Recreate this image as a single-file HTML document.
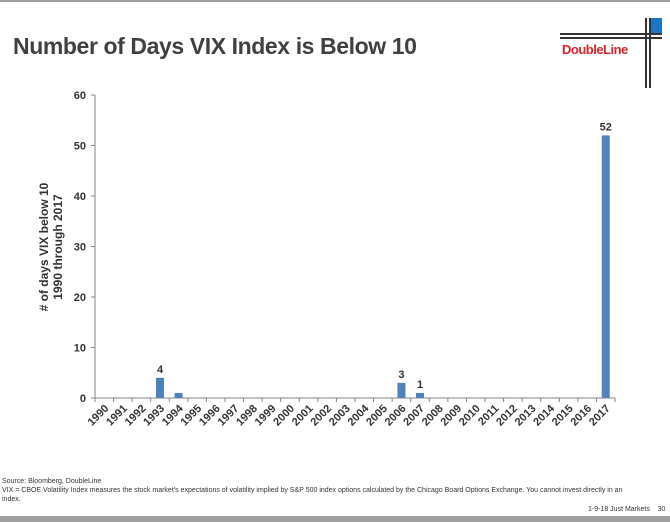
<!DOCTYPE html>
<html><head><meta charset="utf-8"><style>
body{margin:0;width:670px;height:522px;background:#fff;position:relative;overflow:hidden;font-family:"Liberation Sans",sans-serif}
.abs{position:absolute}
</style></head><body>
<div class="abs" style="left:0;top:0;width:670px;height:2px;background:#a0a0a0"></div>
<div class="abs" style="left:13px;top:33px;font-size:23px;color:#404040;font-weight:bold;letter-spacing:-0.4px">Number of Days VIX Index is Below 10</div>
<svg class="abs" style="left:556px;top:16px" width="112" height="74">
<rect x="94" y="2" width="12" height="15" fill="#1a75c4"/>
<rect x="4" y="17" width="102" height="2" fill="#333"/><rect x="4" y="21" width="102" height="2" fill="#333"/>
<rect x="89" y="2" width="2" height="70" fill="#333"/><rect x="93" y="2" width="2" height="70" fill="#333"/>
<text x="6" y="38" font-size="13" font-weight="bold" fill="#d9232a" font-family="Liberation Sans,sans-serif" letter-spacing="-0.5">DoubleLine</text>
</svg>
<svg id="chart" class="abs" style="left:0;top:0" width="670" height="522"></svg>
<div class="abs" style="left:2px;top:477px;font-size:7px;color:#333;line-height:9px;width:640px">Source: Bloomberg, DoubleLine<br>VIX = CBOE Volatility Index measures the stock market's expectations of volatility implied by S&amp;P 500 index options calculated by the Chicago Board Options Exchange. You cannot invest directly in an index.</div>
<div class="abs" style="left:588px;top:506px;font-size:7px;color:#333">1-9-18 Just Markets &nbsp;&nbsp; 30</div>
<div class="abs" style="left:0;top:516px;width:670px;height:6px;background:#a0a0a0"></div>
<script>
const categories=[];for(let y=1990;y<=2017;y++)categories.push(String(y));
const values=[0,0,0,4,1,0,0,0,0,0,0,0,0,0,0,0,3,1,0,0,0,0,0,0,0,0,0,52];
const labels={"1993":"4","2006":"3","2007":"1","2017":"52"};
const yTicks=[0,10,20,30,40,50,60];
const svg=document.getElementById('chart');const NS='http://www.w3.org/2000/svg';
const x0=95,x1=615,y0=398,yTop=95,yMax=60;
const step=(x1-x0)/categories.length;
const xs=i=>x0+step*(i+0.5);const ys=v=>y0-(y0-yTop)*v/yMax;
function mk(t,a,p){const e=document.createElementNS(NS,t);for(const k in a)e.setAttribute(k,a[k]);(p||svg).appendChild(e);return e;}
let e=mk('line',{x1:x0,y1:yTop,x2:x0,y2:y0,stroke:'#868686'});

e=mk('line',{x1:x0,y1:y0,x2:x1,y2:y0,stroke:'#868686'});

yTicks.forEach(t=>{mk('line',{x1:x0-4,y1:ys(t),x2:x0,y2:ys(t),stroke:'#868686'});
const tx=mk('text',{x:x0-9,y:ys(t)+4,'text-anchor':'end','font-size':11,'font-weight':'bold',fill:'#333'});tx.textContent=t;
});
for(let i=0;i<=categories.length;i++)mk('line',{x1:x0+step*i,y1:y0,x2:x0+step*i,y2:y0+4,stroke:'#868686'});
categories.forEach((c,i)=>{const cx=xs(i);
const tx=mk('text',{x:cx+5,y:y0+11,'text-anchor':'end','font-size':11,'font-weight':'bold',fill:'#333',transform:`rotate(-45 ${cx+5} ${y0+11})`});tx.textContent=c;

if(values[i]>0){const r=mk('rect',{x:cx-4,y:ys(values[i]),width:8,height:y0-ys(values[i]),fill:'#4f81bd'});
}
if(labels[c]){const l=mk('text',{x:cx,y:ys(values[i])-5,'text-anchor':'middle','font-size':11,'font-weight':'bold',fill:'#333'});l.textContent=labels[c];
}});
const yt=mk('text',{x:0,y:0,'text-anchor':'middle','font-size':12,'font-weight':'bold',fill:'#333',transform:'translate(48,247) rotate(-90)'});

const a=mk('tspan',{x:0,dy:0},yt);a.textContent='# of days VIX below 10';
const b=mk('tspan',{x:0,dy:14},yt);b.textContent='1990 through 2017';
</script>
</body></html>
